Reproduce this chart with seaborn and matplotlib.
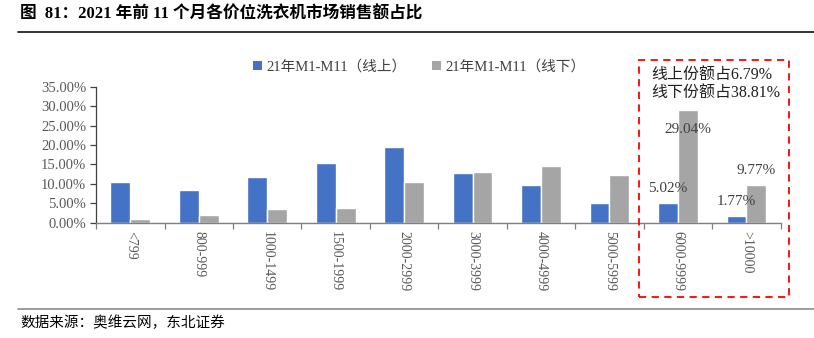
import matplotlib
matplotlib.use("Agg")
import matplotlib.pyplot as plt
import matplotlib.patches as mpatches
from matplotlib.lines import Line2D
import seaborn as sns
import pandas as pd

# Price bands (yuan) and sales share (%) for Jan-Nov 2021
categories = ["<799", "800-999", "1000-1499", "1500-1999", "2000-2999",
              "3000-3999", "4000-4999", "5000-5999", "6000-9999", ">10000"]
online = [10.6, 8.4, 11.7, 15.3, 19.4, 12.8, 9.6, 5.07, 5.02, 1.77]
offline = [0.9, 2.0, 3.5, 3.8, 10.6, 13.0, 14.6, 12.4, 29.04, 9.77]
series_names = ["21年M1-M11（线上）", "21年M1-M11（线下）"]
yticks = [0, 5, 10, 15, 20, 25, 30, 35]

df = pd.DataFrame({
    "价位": categories * 2,
    "份额": online + offline,
    "渠道": [series_names[0]] * len(categories) + [series_names[1]] * len(categories),
})

sns.set_theme(style="white")
SERIF_CJK = ["Liberation Serif", "Noto Sans CJK SC"]
plt.rcParams["font.family"] = SERIF_CJK

blue = "#4472C4"
gray = "#A5A5A5"
text_col = "#404040"

fig = plt.figure(figsize=(8.14, 3.38), dpi=100)
ax = fig.add_axes([0.118, 0.341, 0.841, 0.4025])

sns.barplot(data=df, x="价位", y="份额", hue="渠道", order=categories,
            hue_order=series_names, palette=[blue, gray], width=0.58,
            gap=0, saturation=1, ax=ax, legend=False)

ax.set_xlim(-0.5, len(categories) - 0.5)
ax.set_ylim(0, 35)
ax.set_yticks(yticks)
ax.set_yticklabels([f"{v:.2f}%" for v in yticks], fontsize=10.5, color="#595959")
ax.set_xticks(range(len(categories)))
ax.set_xticklabels(categories, rotation=270, fontsize=10, color="#595959")
ax.set_xticks([i - 0.5 for i in range(len(categories) + 1)], minor=True)
ax.tick_params(axis="x", which="major", length=0, pad=6)
ax.tick_params(axis="x", which="minor", length=4, width=0.9, color="#7f7f7f", direction="out", bottom=True)
ax.tick_params(axis="y", length=4, width=0.9, color="#404040", direction="out", left=True, pad=3)
ax.set_xlabel("")
ax.set_ylabel("")
for side in ["top", "right"]:
    ax.spines[side].set_visible(False)
ax.spines["left"].set_color("#404040")
ax.spines["bottom"].set_color("#7f7f7f")
ax.spines["left"].set_linewidth(0.9)
ax.spines["bottom"].set_linewidth(1.0)

# Value labels on the two high-end bands
i6, i10 = categories.index("6000-9999"), categories.index(">10000")
off = 0.145
lab_kw = dict(ha="center", va="center", fontsize=11, color=text_col)
ax.text(i6 - off, online[i6] + 3.8, f"{online[i6]:.2f}%", **lab_kw)
ax.text(i6 + off, offline[i6] - 5.1, f"{offline[i6]:.2f}%", **lab_kw)
ax.text(i10 - off, online[i10] + 3.8, f"{online[i10]:.2f}%", **lab_kw)
ax.text(i10 + off, offline[i10] + 3.6, f"{offline[i10]:.2f}%", **lab_kw)

# Legend
handles = [mpatches.Patch(facecolor=blue, edgecolor="none"),
           mpatches.Patch(facecolor=gray, edgecolor="none")]
fig.legend(handles, series_names, loc="center", bbox_to_anchor=(0.515, 0.802),
           ncol=2, frameon=False, fontsize=10.5, handlelength=0.6, handleheight=0.6,
           handletextpad=0.3, columnspacing=1.8, labelcolor=text_col)

# Highlight box for the high-end bands
box = mpatches.Rectangle((639 / 814, 1 - 297 / 338), 150 / 814, 237 / 338,
                         transform=fig.transFigure, fill=False, edgecolor="#FF0000",
                         linestyle=(0, (4, 3)), linewidth=1.3)
fig.patches.append(box)
fig.text(651 / 814, 1 - 76 / 338, "线上份额占6.79%", fontsize=11.5, color="#202020",
         ha="left", va="center")
fig.text(651 / 814, 1 - 94 / 338, "线下份额占38.81%", fontsize=11.5, color="#202020",
         ha="left", va="center")

# Header and footer
fig.text(20 / 814, 1 - 14 / 338, "图  81：2021 年前 11 个月各价位洗衣机市场销售额占比",
         fontsize=12, fontweight="bold", color="#000000", ha="left", va="center")
fig.add_artist(Line2D([18 / 814, 1.0], [1 - 32 / 338] * 2, transform=fig.transFigure,
                      color="#222222", linewidth=1.3))
fig.add_artist(Line2D([18 / 814, 1.0], [1 - 309 / 338] * 2, transform=fig.transFigure,
                      color="#8c8c8c", linewidth=1.2))
fig.text(20 / 814, 1 - 323 / 338, "数据来源：奥维云网，东北证券", fontsize=10.5,
         color="#000000", ha="left", va="center")

fig.savefig("out.png", dpi=100)
